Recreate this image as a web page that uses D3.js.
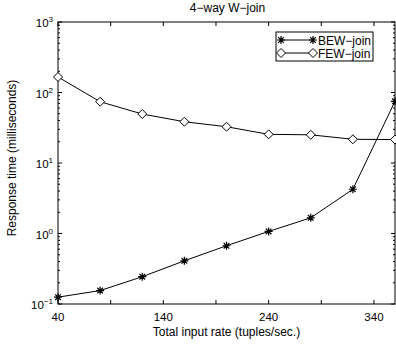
<!DOCTYPE html>
<html><head><meta charset="utf-8">
<script src="https://cdn.jsdelivr.net/npm/d3@7"></script>
<style>body{margin:0;background:#fff}svg{display:block}text{font-family:"Liberation Sans",Arial,sans-serif;fill:#000}</style>
</head><body><svg id="c" width="396" height="346"></svg>
<script>
const xValues = [40, 80, 120, 160, 200, 240, 280, 320, 360];
const bewValues = [0.125, 0.155, 0.244, 0.41, 0.67, 1.07, 1.67, 4.24, 75];
const fewValues = [166, 74, 49.5, 38.5, 32.7, 25.5, 25.1, 21.7, 21.5];
const xTickValues = [40, 90, 140, 190, 240, 290, 340];
const xTickLabels = ["40", "", "140", "", "240", "", "340"];
const yTickExponents = [-1, 0, 1, 2, 3];
const seriesNames = ["BEW\u2212join", "FEW\u2212join"];
const title = "4\u2212way W\u2212join";
const xLabel = "Total input rate (tuples/sec.)";
const yLabel = "Response time (milliseconds)";

const svg = d3.select("#c");
const m = {l: 58, r: 395, t: 22, b: 304};
const x = d3.scaleLinear().domain([40, 360]).range([m.l, m.r]);
const y = d3.scaleLog().domain([0.1, 1000]).range([m.b, m.t]);

// frame
svg.append("rect").attr("x", m.l).attr("y", m.t).attr("width", m.r - m.l).attr("height", m.b - m.t)
  .attr("fill", "none").attr("stroke", "#000").attr("stroke-width", 1);

const g = svg.append("g").attr("stroke", "#000").attr("stroke-width", 1);
xTickValues.forEach(v => {
  g.append("line").attr("x1", x(v)).attr("x2", x(v)).attr("y1", m.b).attr("y2", m.b - 4);
  g.append("line").attr("x1", x(v)).attr("x2", x(v)).attr("y1", m.t).attr("y2", m.t + 4);
});
const minors = [];
yTickExponents.forEach(e => { if (e < 3) for (let k = 2; k <= 9; k++) minors.push(k * Math.pow(10, e)); });
yTickExponents.forEach(e => {
  const v = Math.pow(10, e);
  g.append("line").attr("x1", m.l).attr("x2", m.l + 4).attr("y1", y(v)).attr("y2", y(v));
  g.append("line").attr("x1", m.r).attr("x2", m.r - 4).attr("y1", y(v)).attr("y2", y(v));
});
minors.forEach(v => {
  g.append("line").attr("x1", m.l).attr("x2", m.l + 2).attr("y1", y(v)).attr("y2", y(v));
  g.append("line").attr("x1", m.r).attr("x2", m.r - 2).attr("y1", y(v)).attr("y2", y(v));
});

xTickValues.forEach((v, i) => {
  if (!xTickLabels[i]) return;
  svg.append("text").attr("x", x(v)).attr("y", 321).attr("text-anchor", "middle")
    .attr("font-size", 11.5).text(xTickLabels[i]);
});
yTickExponents.forEach(e => {
  const t = svg.append("text").attr("x", 53).attr("y", y(Math.pow(10, e)) + 5).attr("text-anchor", "end").attr("font-size", 11.5);
  t.append("tspan").text("10");
  t.append("tspan").attr("dy", -5).attr("font-size", 8).text(String(e).replace("-", "\u2212"));
});

svg.append("text").attr("x", (m.l + m.r) / 2 + 1).attr("y", 12).attr("text-anchor", "middle").attr("font-size", 12).text(title);
svg.append("text").attr("x", (m.l + m.r) / 2).attr("y", 336).attr("text-anchor", "middle").attr("font-size", 12).text(xLabel);
svg.append("text").attr("transform", `translate(16,${(m.t + m.b) / 2 - 5}) rotate(-90)`).attr("text-anchor", "middle").attr("font-size", 12).text(yLabel);

const line = d3.line().x(d => x(d[0])).y(d => y(d[1]));
const bew = xValues.map((v, i) => [v, bewValues[i]]);
const few = xValues.map((v, i) => [v, fewValues[i]]);

function star(sel, cx, cy) {
  const s = 4;
  const p = `M${cx - s},${cy}L${cx + s},${cy}M${cx},${cy - s}L${cx},${cy + s}M${cx - s * 0.7},${cy - s * 0.7}L${cx + s * 0.7},${cy + s * 0.7}M${cx - s * 0.7},${cy + s * 0.7}L${cx + s * 0.7},${cy - s * 0.7}`;
  sel.append("path").attr("d", p).attr("stroke", "#000").attr("stroke-width", 1.2).attr("fill", "none");
}
function diamond(sel, cx, cy) {
  const s = 4.5;
  sel.append("path").attr("d", `M${cx},${cy - s}L${cx + s},${cy}L${cx},${cy + s}L${cx - s},${cy}Z`)
    .attr("stroke", "#000").attr("stroke-width", 1).attr("fill", "#fff");
}

const plot = svg.append("g");
plot.append("path").datum(few).attr("d", line).attr("fill", "none").attr("stroke", "#000").attr("stroke-width", 1);
plot.append("path").datum(bew).attr("d", line).attr("fill", "none").attr("stroke", "#000").attr("stroke-width", 1);
few.forEach(d => diamond(plot, x(d[0]), y(d[1])));
bew.forEach(d => star(plot, x(d[0]), y(d[1])));

const lg = svg.append("g");
lg.append("rect").attr("x", 276).attr("y", 32).attr("width", 97).attr("height", 29).attr("fill", "#fff").attr("stroke", "#000").attr("stroke-width", 1);
const rows = [40, 53];
rows.forEach((ry, i) => {
  lg.append("line").attr("x1", 281).attr("x2", 313).attr("y1", ry).attr("y2", ry).attr("stroke", "#000").attr("stroke-width", 1);
  if (i === 0) { star(lg, 281, ry); star(lg, 313, ry); }
  else { diamond(lg, 281, ry); diamond(lg, 313, ry); }
  lg.append("text").attr("x", 318).attr("y", ry + 4.5).attr("font-size", 12).text(seriesNames[i]);
});
</script></body></html>
